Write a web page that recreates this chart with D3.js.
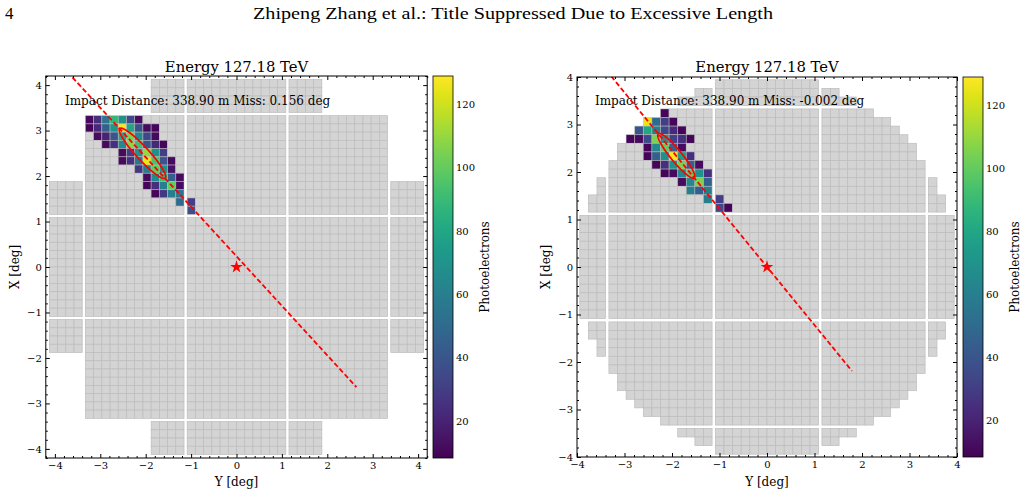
<!DOCTYPE html>
<html><head><meta charset="utf-8">
<script src="https://cdn.jsdelivr.net/npm/d3@7"></script>
<style>body{margin:0;background:#fff;} svg{display:block;} text{font-family:"DejaVu Serif",serif;fill:#000;}</style>
</head><body><svg id="c" width="1025" height="493"></svg>
<script>
// ---------------- data ----------------
const pageNumber = "4";
const runningHead = "Zhipeng Zhang et al.: Title Suppressed Due to Excessive Length";
const panelTitles = ["Energy 127.18 TeV", "Energy 127.18 TeV"];
const annotations = ["Impact Distance: 338.90 m Miss: 0.156 deg", "Impact Distance: 338.90 m Miss: -0.002 deg"];
const axisTickValues = [-4, -3, -2, -1, 0, 1, 2, 3, 4];
const colorbarTickValues = [20, 40, 60, 80, 100, 120];
const peRange = [8.3, 129];
const leftDomain = [-4.2, 4.2];
const rightDomain = [-4, 4];
// hit pixels: [column index, row index (from top), photoelectrons]
const leftHits = [
 [12,12,12],[13,12,25],[14,12,55],[15,12,88],[16,12,70],[17,12,35],[18,12,12],
 [12,13,10],[13,13,22],[14,13,45],[15,13,72],[16,13,128],[17,13,80],[18,13,38],[19,13,12],[20,13,10],
 [13,14,12],[14,14,20],[15,14,40],[16,14,80],[17,14,105],[18,14,65],[19,14,35],[20,14,12],
 [14,15,12],[15,15,25],[16,15,65],[17,15,108],[18,15,92],[19,15,40],[20,15,22],[21,15,10],
 [16,16,12],[17,16,30],[18,16,70],[19,16,110],[20,16,70],[21,16,30],
 [16,17,12],[17,17,25],[18,17,55],[19,17,125],[20,17,95],[21,17,40],[22,17,12],
 [18,18,28],[19,18,60],[20,18,100],[21,18,70],[22,18,14],
 [19,19,12],[20,19,65],[21,19,90],[22,19,45],[23,19,12],
 [19,20,10],[20,20,25],[21,20,60],[22,20,100],[23,20,12],
 [20,21,10],[21,21,28],[22,21,60],[23,21,55],
 [23,22,50],[24,22,30],
 [24,23,38]
];
const rightHits = [
 [18,12,10],
 [16,13,125],[17,13,50],[18,13,30],[19,13,10],
 [15,14,40],[16,14,80],[17,14,60],[18,14,35],[19,14,22],[20,14,10],
 [14,15,10],[15,15,12],[16,15,35],[17,15,105],[18,15,70],[19,15,30],[20,15,25],[21,15,10],
 [16,16,10],[17,16,65],[18,16,100],[19,16,45],[20,16,12],
 [16,17,10],[17,17,45],[18,17,70],[19,17,128],[20,17,75],[21,17,25],
 [17,18,10],[18,18,25],[19,18,70],[20,18,105],[21,18,45],[22,18,12],
 [18,19,10],[19,19,12],[20,19,65],[21,19,100],[22,19,70],[23,19,25],
 [20,20,12],[21,20,65],[22,20,105],[23,20,45],
 [21,21,60],[22,21,45],[23,21,60],
 [23,22,60],[24,22,30],
 [24,23,35],[25,23,10]
];
// Hillas ellipses: [centre X, centre Y, semi-major, semi-minor, angle deg]
const leftEllipse = [-2.07, 2.50, 0.74, 0.14, -47.4];
const rightEllipse = [-1.91, 2.34, 0.60, 0.12, -50.8];
// shower axis lines: [[X0,Y0],[X1,Y1]]
const leftAxisLine = [[-6.78, 7.62], [2.64, -2.64]];
const rightAxisLine = [[-4.9, 6.0], [1.79, -2.19]];
const sourcePos = [0, 0];

// ---------------- camera geometry ----------------
const PITCH = 0.181, NPIX = 12, GAP = 0.07;
const MOD = NPIX * PITCH + GAP, HALF = NPIX * PITCH / 2;
function pixLeft(gi) { const m = Math.floor(gi / NPIX) - 2, l = gi % NPIX; return m * MOD - HALF + l * PITCH; }
function pixTop(gj) { const m = 2 - Math.floor(gj / NPIX), l = gj % NPIX; return m * MOD + HALF - l * PITCH; }
const maskSquareCross = (cx, cy) => (Math.abs(cx) < 3.36 && Math.abs(cy) < 3.36) || (Math.abs(cx) < 1.9 && Math.abs(cy) < 4.15) || (Math.abs(cx) < 4.15 && Math.abs(cy) < 1.9);
const maskCircle = (cx, cy) => Math.hypot(cx, cy) < 3.98;

const svg = d3.select("#c");
const color = d3.scaleSequential(d3.interpolateViridis).domain(peRange);

svg.append("text").attr("x", 5).attr("y", 19).style("font-family", "'Liberation Serif',serif").style("font-size", "17px").text(pageNumber);
svg.append("text").attr("x", 513).attr("y", 19).attr("text-anchor", "middle").attr("textLength", 520).attr("lengthAdjust", "spacingAndGlyphs")
  .style("font-family", "'Liberation Serif',serif").style("font-size", "17px").text(runningHead);

function fmt(v) { return String(v).replace("-", "\u2212"); }

function panel(cfg) {
  const x = d3.scaleLinear().domain(cfg.domain).range([cfg.left, cfg.right]);
  const y = d3.scaleLinear().domain(cfg.domain).range([cfg.bottom, cfg.top]);
  const defs = svg.append("defs");
  defs.append("clipPath").attr("id", cfg.id + "clip").append("rect")
    .attr("x", cfg.left).attr("y", cfg.top).attr("width", cfg.right - cfg.left).attr("height", cfg.bottom - cfg.top);
  const plot = svg.append("g").attr("clip-path", `url(#${cfg.id}clip)`);

  const hitMap = new Map(cfg.hits.map(h => [h[0] + "," + h[1], h[2]]));
  const pixels = [];
  for (let gi = 0; gi < 60; gi++) for (let gj = 0; gj < 60; gj++) {
    const l = pixLeft(gi), t = pixTop(gj);
    if (cfg.mask(l + PITCH / 2, t - PITCH / 2)) pixels.push({ gi, gj, l, t, pe: hitMap.get(gi + "," + gj) });
  }
  plot.selectAll("rect.pix").data(pixels).join("rect").attr("class", "pix")
    .attr("x", d => x(d.l)).attr("y", d => y(d.t))
    .attr("width", d => x(d.l + PITCH) - x(d.l)).attr("height", d => y(d.t - PITCH) - y(d.t))
    .attr("fill", d => d.pe == null ? "#d4d4d4" : color(d.pe))
    .attr("stroke", d => d.pe == null ? "#bdbdbd" : "rgba(190,190,190,0.7)").attr("stroke-width", 0.7);

  // ellipse
  const [ecx, ecy, ea, eb, eang] = cfg.ellipse;
  const th = eang * Math.PI / 180;
  const pts = d3.range(0, 361, 3).map(k => {
    const t = k * Math.PI / 180;
    const u = ea * Math.cos(t), v = eb * Math.sin(t);
    return [ecx + u * Math.cos(th) - v * Math.sin(th), ecy + u * Math.sin(th) + v * Math.cos(th)];
  });
  plot.append("path").attr("d", d3.line().x(d => x(d[0])).y(d => y(d[1]))(pts))
    .attr("fill", "none").attr("stroke", "red").attr("stroke-width", 1.7);
  // axis line
  plot.append("path").attr("d", d3.line().x(d => x(d[0])).y(d => y(d[1]))(cfg.line))
    .attr("fill", "none").attr("stroke", "red").attr("stroke-width", 1.8).attr("stroke-dasharray", "5,2.6");
  // source star
  plot.append("path").attr("d", d3.symbol(d3.symbolStar, 50)())
    .attr("transform", `translate(${x(sourcePos[0])},${y(sourcePos[1])})`).attr("fill", "red");

  // axes
  const minor = d3.range(cfg.domain[0], cfg.domain[1] + 1e-9, 0.2).map(v => Math.round(v * 5) / 5)
    .filter(v => Math.abs(v - Math.round(v)) > 1e-6 && v >= cfg.domain[0] - 1e-9 && v <= cfg.domain[1] + 1e-9);
  const axG = svg.append("g");
  const mk = (gen, sc, tr, size, labels, vals) => {
    const a = gen(sc).tickValues(vals).tickSize(-size).tickSizeOuter(0).tickPadding(4)
      .tickFormat(labels ? fmt : () => "");
    const g = axG.append("g").attr("transform", tr).call(a);
    g.select(".domain").remove();
    g.selectAll("text").style("font-family", "'DejaVu Serif',serif").style("font-size", "10px");
    return g;
  };
  mk(d3.axisBottom, x, `translate(0,${cfg.bottom})`, 4, true, axisTickValues);
  mk(d3.axisBottom, x, `translate(0,${cfg.bottom})`, 2, false, minor);
  mk(d3.axisTop, x, `translate(0,${cfg.top})`, 4, false, axisTickValues);
  mk(d3.axisTop, x, `translate(0,${cfg.top})`, 2, false, minor);
  mk(d3.axisLeft, y, `translate(${cfg.left},0)`, 4, true, axisTickValues);
  mk(d3.axisLeft, y, `translate(${cfg.left},0)`, 2, false, minor);
  mk(d3.axisRight, y, `translate(${cfg.right},0)`, 4, false, axisTickValues);
  mk(d3.axisRight, y, `translate(${cfg.right},0)`, 2, false, minor);
  svg.append("rect").attr("x", cfg.left).attr("y", cfg.top).attr("width", cfg.right - cfg.left).attr("height", cfg.bottom - cfg.top)
    .attr("fill", "none").attr("stroke", "#000").attr("stroke-width", 1);

  // texts
  const cxp = (cfg.left + cfg.right) / 2;
  svg.append("text").attr("x", cxp).attr("y", 72).attr("text-anchor", "middle").style("font-size", "14.8px").text(cfg.title);
  svg.append("text").attr("x", cfg.annX).attr("y", 104.5).style("font-size", "12px").text(cfg.annotation);
  svg.append("text").attr("x", cxp).attr("y", 486).attr("text-anchor", "middle").style("font-size", "12px").text("Y [deg]");
  svg.append("text").attr("transform", `translate(${cfg.left - 27},${(cfg.top + cfg.bottom) / 2}) rotate(-90)`)
    .attr("text-anchor", "middle").style("font-size", "12px").text("X [deg]");

  // colorbar
  const gid = cfg.id + "grad";
  const grad = defs.append("linearGradient").attr("id", gid).attr("x1", 0).attr("y1", 1).attr("x2", 0).attr("y2", 0);
  d3.range(0, 1.0001, 0.05).forEach(t => grad.append("stop").attr("offset", t).attr("stop-color", d3.interpolateViridis(t)));
  const cb = cfg.cbar;
  svg.append("rect").attr("x", cb[0]).attr("y", cfg.top).attr("width", cb[1] - cb[0]).attr("height", cfg.bottom - cfg.top)
    .attr("fill", `url(#${gid})`).attr("stroke", "#000").attr("stroke-width", 0.8);
  const cy = d3.scaleLinear().domain(peRange).range([cfg.bottom, cfg.top]);
  const cbg = svg.append("g").attr("transform", `translate(${cb[1]},0)`)
    .call(d3.axisRight(cy).tickValues(colorbarTickValues).tickSize(0).tickPadding(3));
  cbg.select(".domain").remove();
  cbg.selectAll("text").style("font-family", "'DejaVu Serif',serif").style("font-size", "10px");
  svg.append("text").attr("transform", `translate(${cb[1] + 36},${(cfg.top + cfg.bottom) / 2}) rotate(-90)`)
    .attr("text-anchor", "middle").style("font-size", "12px").text("Photoelectrons");
}

panel({ id: "L", domain: leftDomain, left: 45.8, right: 427.2, top: 76, bottom: 458, mask: maskSquareCross,
  hits: leftHits, ellipse: leftEllipse, line: leftAxisLine, title: panelTitles[0], annotation: annotations[0], annX: 65, cbar: [433, 453] });
panel({ id: "R", domain: rightDomain, left: 577, right: 957, top: 77, bottom: 457, mask: maskCircle,
  hits: rightHits, ellipse: rightEllipse, line: rightAxisLine, title: panelTitles[1], annotation: annotations[1], annX: 595, cbar: [963, 983] });
</script></body></html>
